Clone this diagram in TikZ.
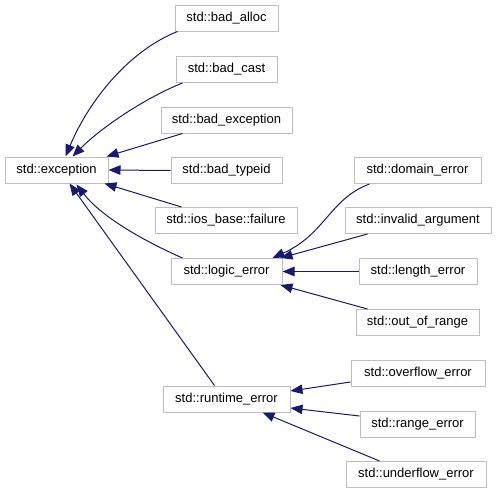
\documentclass[tikz,border=0pt]{standalone}
\usepackage{fontspec}
\setmainfont{Liberation Sans}
\usetikzlibrary{arrows.meta,calc}
\definecolor{edgeblue}{HTML}{191970}
\definecolor{boxgray}{HTML}{BFBFBF}
\begin{document}
\begin{tikzpicture}[x=1pt,y=-1pt,
  cls/.style={draw=boxgray,line width=1pt,rectangle,minimum height=26pt,inner sep=0pt,
    font=\fontsize{13}{15}\selectfont,text=black},
  inh/.style={draw=edgeblue,line width=1pt,-{Triangle[length=12pt,width=9.5pt]}}]
\useasboundingbox (0,0) rectangle (496,493);
\fill[white] (0,0) rectangle (496,493);
\node[cls,minimum width=103pt] (exc) at (56.5,170) {std::exception};
\node[cls,minimum width=103pt] (ba) at (226.5,18) {std::bad\_alloc};
\node[cls,minimum width=101pt] (bc) at (226.5,69.5) {std::bad\_cast};
\node[cls,minimum width=131pt] (be) at (226.5,120) {std::bad\_exception};
\node[cls,minimum width=111pt] (bt) at (226.5,170.5) {std::bad\_typeid};
\node[cls,minimum width=142pt] (ios) at (226,220.5) {std::ios\_base::failure};
\node[cls,minimum width=111pt] (le) at (226.5,271.5) {std::logic\_error};
\node[cls,minimum width=127pt] (de) at (417.5,170.5) {std::domain\_error};
\node[cls,minimum width=146pt] (ia) at (418,220.5) {std::invalid\_argument};
\node[cls,minimum width=118pt] (len) at (418,271.5) {std::length\_error};
\node[cls,minimum width=123pt] (oor) at (417.5,322.5) {std::out\_of\_range};
\node[cls,minimum width=127pt] (re) at (226.5,399) {std::runtime\_error};
\node[cls,minimum width=134pt] (ov) at (418,373) {std::overflow\_error};
\node[cls,minimum width=115pt] (rng) at (417.5,424.5) {std::range\_error};
\node[cls,minimum width=140pt] (und) at (416,474.5) {std::underflow\_error};
% edges to std::exception
\draw[inh] ($(ba.south west)+(3,0)$) .. controls +(-48,19) and +(24,-57) .. ($(exc.north west)+(61,0)$);
\draw[inh] ($(bc.south west)+(7,0)$) .. controls +(-33,13) and +(32,-32) .. ($(exc.north west)+(68,0)$);
\draw[inh] ($(be.south west)+(22,0)$) -- ($(exc.north east)+(-2,0)$);
\draw[inh] (bt.west) -- (exc.east);
\draw[inh] ($(ios.north west)+(27,0)$) -- ($(exc.south east)+(-4,0)$);
\draw[inh] ($(le.north west)+(12,0)$) .. controls +(-43,-19) and +(24,31) .. ($(exc.south west)+(72,1)$);
\draw[inh] ($(re.north west)+(52,0)$) -- ($(exc.south west)+(65,0)$);
% edges to std::logic_error
\draw[inh] ($(de.south west)+(16,0)$) .. controls +(-40,15) and +(53,-24) .. ($(le.north east)+(-10,0)$);
\draw[inh] ($(ia.south west)+(23,0)$) -- ($(le.north east)+(-2,0)$);
\draw[inh] (len.west) -- (le.east);
\draw[inh] ($(oor.north west)+(12,0)$) -- ($(le.south east)+(-2,0)$);
% edges to std::runtime_error
\draw[inh] ($(ov.west)+(0,9)$) -- ($(re.east)+(0,-8)$);
\draw[inh] ($(rng.west)+(0,-8.5)$) -- ($(re.east)+(0,9)$);
\draw[inh] ($(und.north west)+(34,0)$) -- ($(re.south east)+(-28,0)$);
\end{tikzpicture}
\end{document}
